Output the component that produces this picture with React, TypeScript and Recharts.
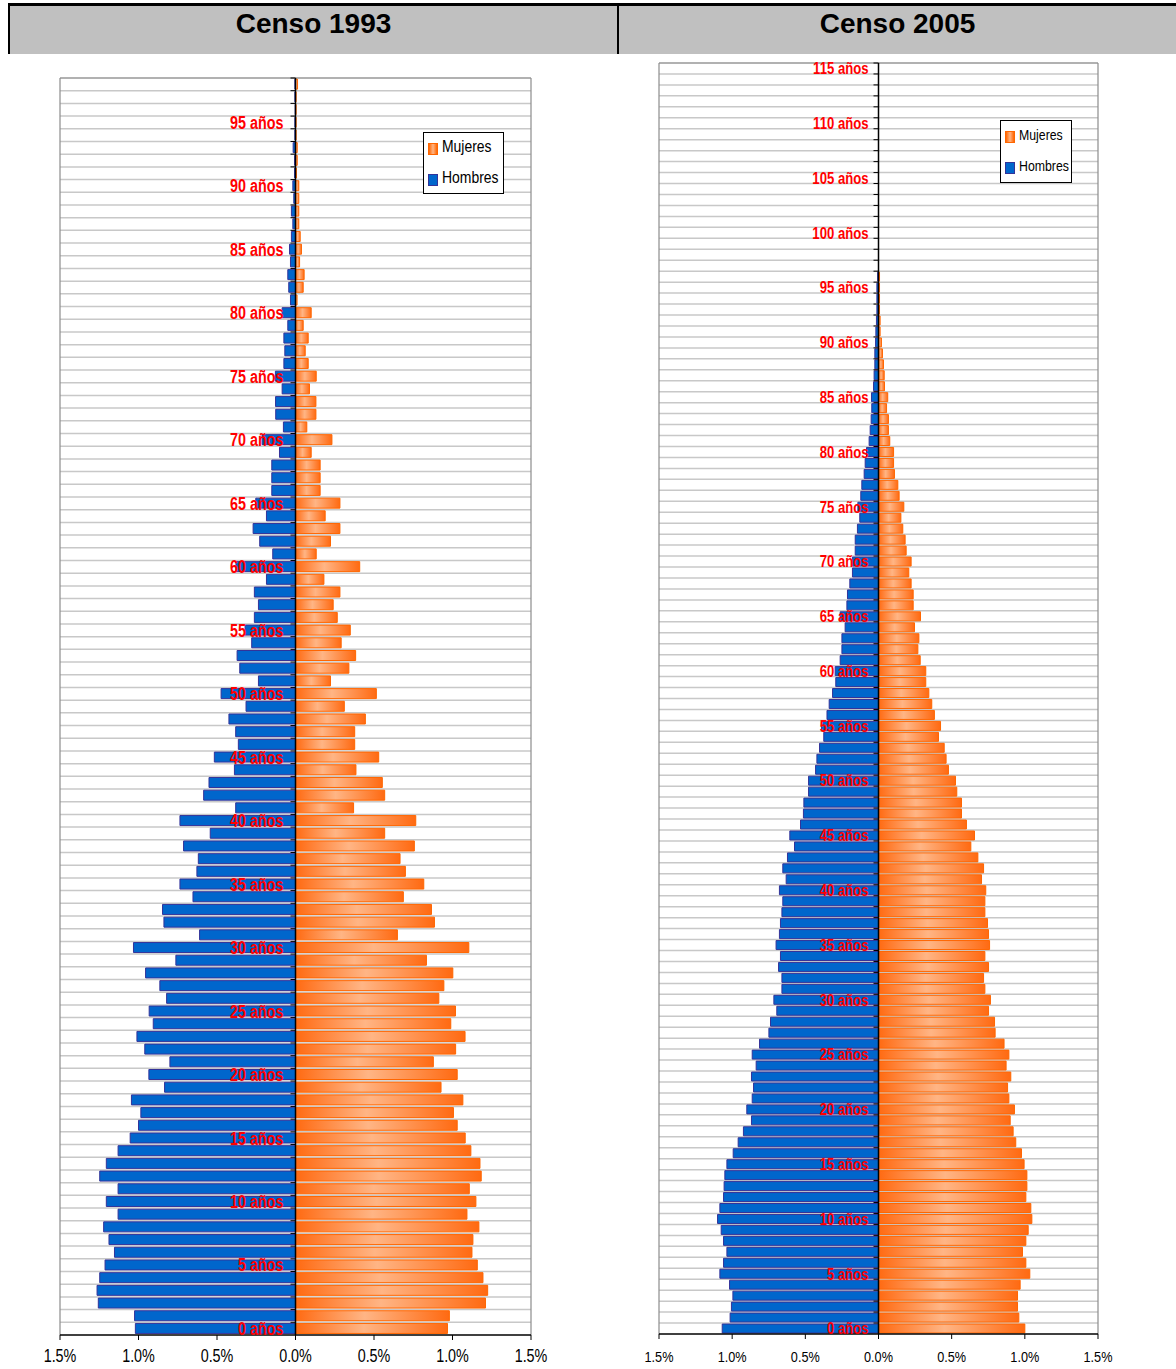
import React from 'react';
import { BarChart, Bar, XAxis, YAxis, CartesianGrid, ReferenceLine, Legend } from 'recharts';

// edades (categorías)
const ages1993 = [
  0, 1, 2, 3, 4, 5, 6, 7, 8, 9, 10, 11, 12, 13, 14, 15, 16, 17, 18, 19,
  20, 21, 22, 23, 24, 25, 26, 27, 28, 29, 30, 31, 32, 33, 34, 35, 36, 37, 38, 39,
  40, 41, 42, 43, 44, 45, 46, 47, 48, 49, 50, 51, 52, 53, 54, 55, 56, 57, 58, 59,
  60, 61, 62, 63, 64, 65, 66, 67, 68, 69, 70, 71, 72, 73, 74, 75, 76, 77, 78, 79,
  80, 81, 82, 83, 84, 85, 86, 87, 88, 89, 90, 91, 92, 93, 94, 95, 96, 97, 98,
];
const ages2005 = [
  0, 1, 2, 3, 4, 5, 6, 7, 8, 9, 10, 11, 12, 13, 14, 15, 16, 17, 18, 19,
  20, 21, 22, 23, 24, 25, 26, 27, 28, 29, 30, 31, 32, 33, 34, 35, 36, 37, 38, 39,
  40, 41, 42, 43, 44, 45, 46, 47, 48, 49, 50, 51, 52, 53, 54, 55, 56, 57, 58, 59,
  60, 61, 62, 63, 64, 65, 66, 67, 68, 69, 70, 71, 72, 73, 74, 75, 76, 77, 78, 79,
  80, 81, 82, 83, 84, 85, 86, 87, 88, 89, 90, 91, 92, 93, 94, 95, 96, 97, 98, 99,
  100, 101, 102, 103, 104, 105, 106, 107, 108, 109, 110, 111, 112, 113, 114, 115,
];

// % de la población, censo 1993
const hombres1993 = [
  1.02, 1.025, 1.256, 1.264, 1.247, 1.213, 1.153, 1.188, 1.222, 1.13,
  1.205, 1.13, 1.247, 1.205, 1.13, 1.053, 1.0, 0.985, 1.045, 0.834,
  0.934, 0.8, 0.96, 1.01, 0.906, 0.932, 0.821, 0.864, 0.955, 0.762,
  1.032, 0.611, 0.838, 0.847, 0.653, 0.736, 0.628, 0.619, 0.713, 0.543,
  0.736, 0.381, 0.585, 0.551, 0.389, 0.517, 0.364, 0.381, 0.424, 0.315,
  0.474, 0.236, 0.355, 0.372, 0.279, 0.321, 0.262, 0.236, 0.262, 0.185,
  0.379, 0.145, 0.228, 0.27, 0.185, 0.253, 0.151, 0.151, 0.151, 0.102,
  0.213, 0.077, 0.126, 0.127, 0.085, 0.128, 0.074, 0.068, 0.074, 0.049,
  0.085, 0.032, 0.043, 0.049, 0.032, 0.038, 0.026, 0.017, 0.026, 0.011,
  0.017, 0.006, 0.006, 0.015, 0.004, 0.004, 0.002, 0.004, 0.004,
];
const mujeres1993 = [
  0.968, 0.98, 1.21, 1.224, 1.194, 1.158, 1.124, 1.13, 1.168, 1.092,
  1.149, 1.107, 1.183, 1.175, 1.117, 1.081, 1.03, 1.006, 1.066, 0.927,
  1.03, 0.878, 1.02, 1.08, 0.989, 1.019, 0.913, 0.945, 1.002, 0.834,
  1.104, 0.649, 0.885, 0.866, 0.687, 0.817, 0.7, 0.666, 0.757, 0.568,
  0.766, 0.37, 0.568, 0.553, 0.385, 0.53, 0.377, 0.377, 0.445, 0.311,
  0.515, 0.223, 0.34, 0.383, 0.291, 0.349, 0.266, 0.24, 0.283, 0.181,
  0.409, 0.132, 0.223, 0.283, 0.189, 0.283, 0.157, 0.157, 0.157, 0.1,
  0.232, 0.072, 0.13, 0.13, 0.089, 0.132, 0.081, 0.062, 0.081, 0.049,
  0.1, 0.01, 0.049, 0.055, 0.026, 0.038, 0.03, 0.021, 0.021, 0.021,
  0.021, 0.006, 0.011, 0.011, 0.004, 0.004, 0.004, 0.004, 0.013,
];

// % de la población, censo 2005
const hombres2005 = [
  1.068, 1.014, 1.005, 0.995, 1.018, 1.084, 1.059, 1.036, 1.059, 1.075,
  1.1, 1.084, 1.059, 1.055, 1.05, 1.036, 0.993, 0.959, 0.923, 0.868,
  0.9, 0.863, 0.854, 0.868, 0.836, 0.863, 0.813, 0.749, 0.738, 0.695,
  0.715, 0.66, 0.66, 0.683, 0.67, 0.7, 0.677, 0.67, 0.66, 0.654,
  0.677, 0.631, 0.654, 0.622, 0.574, 0.606, 0.533, 0.513, 0.51, 0.478,
  0.478, 0.43, 0.421, 0.403, 0.374, 0.39, 0.352, 0.337, 0.314, 0.292,
  0.296, 0.262, 0.25, 0.25, 0.228, 0.262, 0.216, 0.212, 0.196, 0.178,
  0.178, 0.159, 0.159, 0.144, 0.128, 0.141, 0.121, 0.114, 0.098, 0.091,
  0.082, 0.064, 0.057, 0.05, 0.046, 0.048, 0.034, 0.03, 0.025, 0.025,
  0.02, 0.018, 0.014, 0.011, 0.011, 0.011, 0.006, 0, 0, 0,
  0, 0, 0, 0, 0, 0, 0, 0, 0, 0, 0, 0, 0, 0, 0, 0,
];
const mujeres2005 = [
  1.0, 0.959, 0.95, 0.95, 0.968, 1.034, 1.007, 0.984, 1.007, 1.023,
  1.048, 1.041, 1.007, 1.014, 1.014, 0.995, 0.977, 0.938, 0.92, 0.9,
  0.929, 0.891, 0.882, 0.904, 0.872, 0.891, 0.858, 0.797, 0.793, 0.752,
  0.765, 0.727, 0.718, 0.752, 0.727, 0.759, 0.752, 0.745, 0.727, 0.727,
  0.733, 0.704, 0.718, 0.679, 0.631, 0.656, 0.601, 0.567, 0.567, 0.535,
  0.526, 0.478, 0.462, 0.449, 0.41, 0.424, 0.382, 0.364, 0.344, 0.323,
  0.323, 0.285, 0.269, 0.276, 0.246, 0.287, 0.237, 0.237, 0.223, 0.207,
  0.223, 0.189, 0.182, 0.166, 0.153, 0.173, 0.141, 0.132, 0.109, 0.103,
  0.103, 0.077, 0.068, 0.068, 0.055, 0.063, 0.041, 0.039, 0.034, 0.027,
  0.02, 0.011, 0.011, 0.007, 0.007, 0.007, 0.007, 0, 0, 0,
  0, 0, 0, 0, 0, 0, 0, 0, 0, 0, 0, 0, 0, 0, 0, 0,
];

const xTicks = [-1.5, -1, -0.5, 0, 0.5, 1, 1.5];

// no hay Arial Narrow instalada: Liberation Sans comprimida a lo ancho
const SANS = "'Liberation Sans', Arial, sans-serif";
const NARROW_X = 0.82;
const ORANGE = '#FF6600';
const BLUE = '#0066CC';

function buildRows(ages: number[], h: number[], m: number[]) {
  return ages.map((age, i) => ({ age, Hombres: -h[i], Mujeres: m[i] }));
}

const LegendBox = ({ w, h, fontSize, rowY }: any) => {
  const row = (top: number, label: string, bg: string, border: string) => (
    <div style={{ position: 'absolute', top, left: 0 }}>
      <span
        style={{
          position: 'absolute',
          left: 4,
          top: -5,
          width: 8,
          height: 10,
          background: bg,
          border: `1px solid ${border}`,
        }}
      />
      <span
        style={{
          position: 'absolute',
          left: 18,
          top: -fontSize * 0.58,
          whiteSpace: 'nowrap',
          lineHeight: 1,
          transform: `scaleX(${NARROW_X})`,
          transformOrigin: 'left center',
        }}
      >
        {label}
      </span>
    </div>
  );
  return (
    <div
      style={{
        width: w,
        height: h,
        border: '1px solid #000',
        background: '#fff',
        boxSizing: 'border-box',
        position: 'relative',
        fontFamily: SANS,
        fontSize,
        color: '#000',
      }}
    >
      {row(rowY[0], 'Mujeres', `linear-gradient(to right, ${ORANGE}, #FFB585, ${ORANGE})`, ORANGE)}
      {row(rowY[1], 'Hombres', BLUE, '#333399')}
    </div>
  );
};

function Pyramid({ id, data, width, height, margin, labelSize, labelGap, axisFont, tickMargin, legend }: any) {
  const yAxisW = 1;
  const xAxisH = 30;
  const plotLeft = margin.left + yAxisW;
  const plotW = width - plotLeft - margin.right;
  const plotTop = margin.top;
  const plotH = height - margin.top - margin.bottom - xAxisH;
  const n = data.length;
  const band = plotH / n;
  const zeroX = plotLeft + plotW / 2;
  const rowLines = Array.from({ length: n }, (_, i) => plotTop + i * band);

  const AgeTick = (props: any) => {
    const { y, payload } = props;
    const top = y - band / 2;
    return (
      <g>
        <line x1={zeroX - 5} x2={zeroX} y1={top} y2={top} stroke="#000" strokeWidth={1} />
        {payload.value % 5 === 0 && (
          <text
            transform={`translate(${zeroX - labelGap},${y}) scale(${NARROW_X},1)`}
            dy={labelSize * 0.36}
            textAnchor="end"
            fill="#FF0000"
            fontWeight="bold"
            fontSize={labelSize}
            fontFamily={SANS}
          >
            {`${payload.value} años`}
          </text>
        )}
      </g>
    );
  };

  const PctTick = (props: any) => {
    const { x, y, payload } = props;
    return (
      <text
        transform={`translate(${x},${y}) scale(${NARROW_X},1)`}
        dy="0.71em"
        textAnchor="middle"
        fill="#000"
        fontSize={axisFont}
        fontFamily={SANS}
      >
        {`${Math.abs(payload.value).toFixed(1)}%`}
      </text>
    );
  };

  return (
    <BarChart
      width={width}
      height={height}
      data={data}
      layout="vertical"
      stackOffset="sign"
      margin={margin}
      barCategoryGap="9%"
    >
      <defs>
        <linearGradient id={id} x1="0" y1="0" x2="1" y2="0">
          <stop offset="0%" stopColor="#FF6A12" />
          <stop offset="45%" stopColor="#FFB585" />
          <stop offset="100%" stopColor="#FF6A12" />
        </linearGradient>
      </defs>
      <CartesianGrid horizontalPoints={rowLines} vertical={false} stroke="#c8c8c8" strokeWidth={1.5} />
      <CartesianGrid horizontalPoints={[plotTop]} verticalPoints={[plotLeft, plotLeft + plotW]} stroke="#8c8c8c" strokeWidth={1.2} />
      <XAxis
        type="number"
        domain={[-1.5, 1.5]}
        ticks={xTicks}
        allowDataOverflow
        height={xAxisH}
        axisLine={{ stroke: '#000', strokeWidth: 1.5 }}
        tickLine={{ stroke: '#000' }}
        tickSize={5}
        tickMargin={tickMargin}
        tick={PctTick}
      />
      <Bar dataKey="Hombres" stackId="s" fill={BLUE} stroke="#333399" strokeWidth={1} isAnimationActive={false} />
      <Bar dataKey="Mujeres" stackId="s" fill={`url(#${id})`} stroke={ORANGE} strokeWidth={1} isAnimationActive={false} />
      <ReferenceLine x={0} stroke="#000" strokeWidth={1.5} />
      <YAxis
        type="category"
        dataKey="age"
        reversed
        width={yAxisW}
        interval={0}
        axisLine={false}
        tickLine={false}
        tick={AgeTick}
      />
      <Legend
        layout="vertical"
        align="center"
        verticalAlign="middle"
        wrapperStyle={{ left: legend.left, top: legend.top, width: legend.w, height: legend.h }}
        content={() => <LegendBox w={legend.w} h={legend.h} fontSize={legend.fontSize} rowY={legend.rowY} />}
      />
    </BarChart>
  );
}

export default function App() {
  const data1993 = buildRows(ages1993, hombres1993, mujeres1993);
  const data2005 = buildRows(ages2005, hombres2005, mujeres2005);

  const headCell: React.CSSProperties = {
    display: 'flex',
    alignItems: 'center',
    justifyContent: 'center',
    fontSize: 28,
    fontWeight: 'bold',
    paddingBottom: 12,
    boxSizing: 'border-box',
  };

  return (
    <div
      style={{
        position: 'absolute',
        left: 0,
        top: 0,
        width: 1176,
        height: 1369,
        overflow: 'hidden',
        background: '#fff',
        fontFamily: SANS,
      }}
    >
      {/* encabezado */}
      <div
        style={{
          position: 'absolute',
          left: 8,
          top: 3,
          width: 1168,
          height: 51,
          background: '#C0C0C0',
          borderTop: '3px solid #000',
          borderLeft: '2px solid #000',
          boxSizing: 'border-box',
          display: 'flex',
        }}
      >
        <div style={{ ...headCell, width: 609, borderRight: '2px solid #000' }}>Censo 1993</div>
        <div style={{ ...headCell, flex: 1 }}>Censo 2005</div>
      </div>

      <div style={{ position: 'absolute', left: 0, top: 0 }}>
        <Pyramid
          id="grad1993"
          data={data1993}
          width={560}
          height={1369}
          margin={{ top: 78, right: 29, bottom: 4, left: 59 }}
          labelSize={17.5}
          labelGap={12}
          axisFont={17.5}
          tickMargin={10}
          legend={{ left: 423, top: 132, w: 81, h: 62, fontSize: 17, rowY: [15, 46] }}
        />
      </div>

      <div style={{ position: 'absolute', left: 600, top: 0 }}>
        <Pyramid
          id="grad2005"
          data={data2005}
          width={520}
          height={1369}
          margin={{ top: 63, right: 22, bottom: 5, left: 58 }}
          labelSize={16}
          labelGap={10}
          axisFont={15.5}
          tickMargin={12}
          legend={{ left: 400, top: 120, w: 72, h: 63, fontSize: 15, rowY: [15, 46] }}
        />
      </div>
    </div>
  );
}
